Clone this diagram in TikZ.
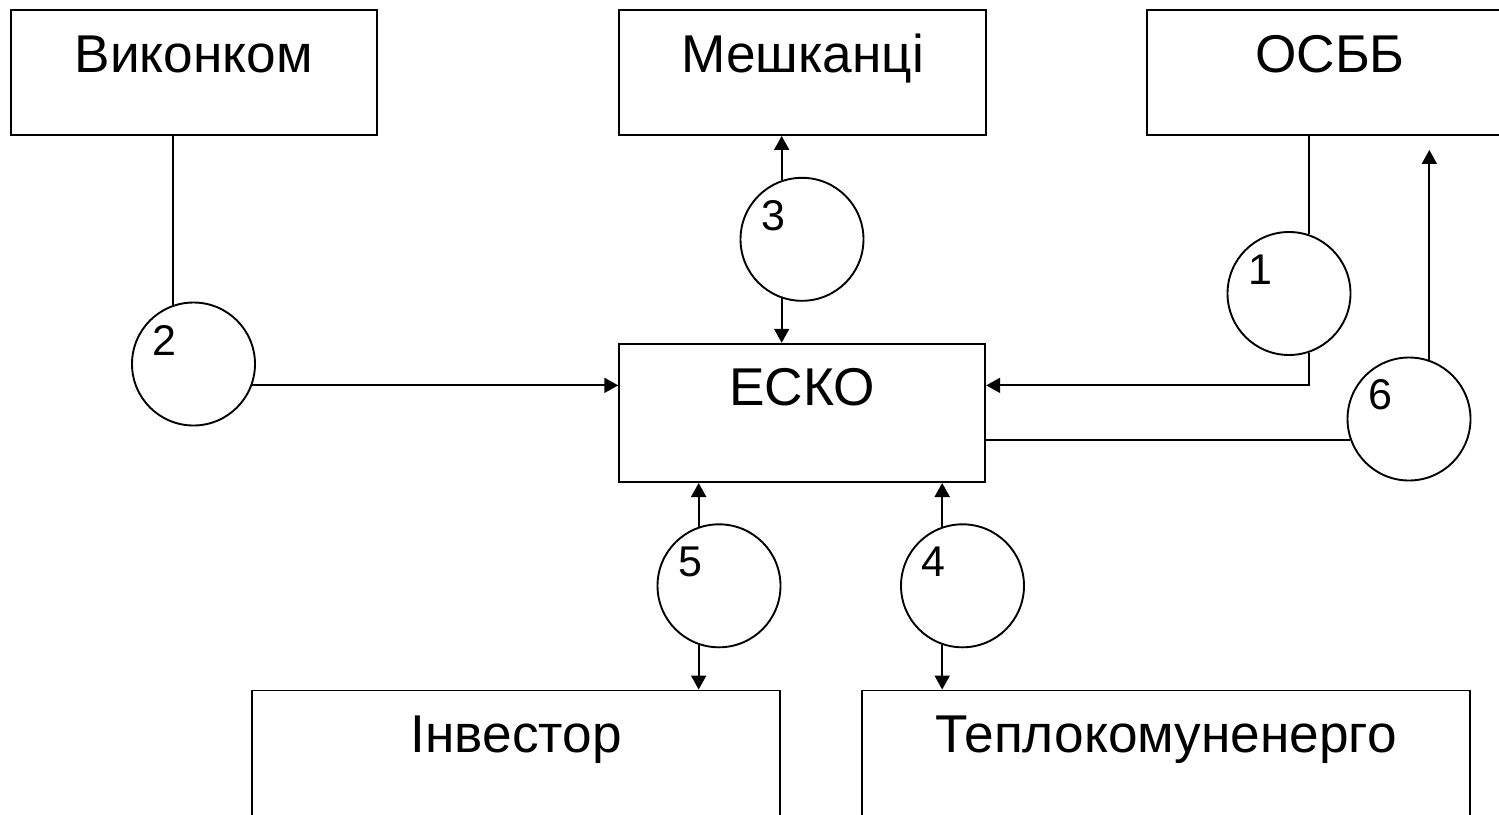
\documentclass[tikz,border=0pt]{standalone}
\usepackage{fontspec}
\setmainfont{Liberation Sans}
\usetikzlibrary{arrows.meta}

\begin{document}
\begin{tikzpicture}[
        x=0.5pt, y=-0.5pt,
        >={Triangle[length=7pt, width=7.5pt]},
        line width=0.95pt,
        party/.style={draw, rectangle, inner sep=0pt, text height=31pt, text depth=31.5pt, font=\fontsize{26.6}{32}\selectfont},
        flow/.style={draw, circle, minimum size=61.5pt, inner sep=0pt},
        num/.style={font=\fontsize{21.5}{26}\selectfont, inner sep=0pt, xshift=-14.5pt, yshift=12pt},
    ]
        \useasboundingbox (0,0) rectangle (1499,814);
        \clip (0,0) rectangle (1499,814);

        % Draw the parties
        \node[party, minimum width=183pt] (B-vyk) at (193.7,72.5) {Виконком};
        \node[party, minimum width=183.3pt] (B-mesh) at (802.7,72.5) {Мешканці};
        \node[party, minimum width=183pt] (B-osbb) at (1330,72.5) {ОСББ};
        \node[party, minimum width=183pt, text height=30.65pt, text depth=38.5pt] (ESCO) at (802.2,412.9) {ЕСКО};
        \node[party, minimum width=263.9pt] (B-inv) at (516.2,753) {Інвестор};
        \node[party, minimum width=304.2pt] (B-tep) at (1165.9,753) {Теплокомуненерго};

        % Draw the numbered circles
        \foreach \name / \x / \y in {1/1289/293.5, 2/193.5/364, 3/802/239.3, 4/962.5/585.8, 5/719/585.8, 6/1409/419}
            \node[flow, label={[num]center:\name}] (C-\name) at (\x,\y) {};

        % Виконком -- 2 -- ЕСКО
        \draw (C-2.109) -- (C-2.109 |- B-vyk.south);
        \draw[->] (C-2.-20) -- (C-2.-20 -| ESCO.west);

        % Мешканці -- 3 -- ЕСКО
        \draw[->] (C-3.109) -- (C-3.109 |- B-mesh.south);
        \draw[->] (C-3.-109) -- (C-3.-109 |- ESCO.north);

        % ОСББ -- 1 -- ЕСКО
        \draw (C-1.71) -- (C-1.71 |- B-osbb.south);
        \draw[->] (C-1.-71) |- (C-2.-20 -| ESCO.east);

        % ЕСКО -- 6 -- ОСББ
        \coordinate (T-6) at (C-6.71 |- B-osbb.south);
        \draw (C-6.200) -- (C-6.200 -| ESCO.east);
        \draw[->] (C-6.71) -- ([yshift=-7pt]T-6);

        % ЕСКО -- 5, 4 -- Інвестор, Теплокомуненерго
        \foreach \name / \dest in {5/B-inv, 4/B-tep} {
            \draw[->] (C-\name.109) -- (C-\name.109 |- ESCO.south);
            \draw[->] (C-\name.-109) -- (C-\name.-109 |- \dest.north);
        }
\end{tikzpicture}
\end{document}
